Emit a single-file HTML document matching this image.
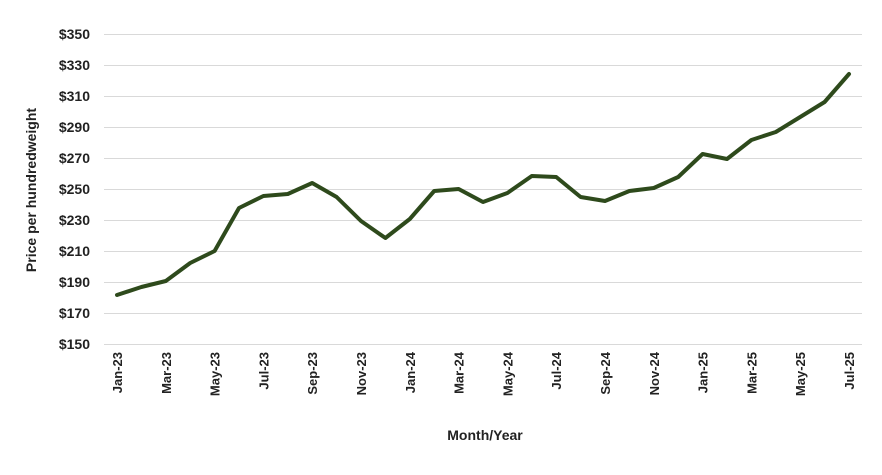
<!DOCTYPE html>
<html><head><meta charset="utf-8"><style>
body{margin:0;background:#fff}
text{font-family:"Liberation Sans Narrow","Liberation Sans",sans-serif;font-weight:bold;fill:#222}
</style></head><body>
<svg width="882" height="470" viewBox="0 0 882 470" xmlns="http://www.w3.org/2000/svg">
<g stroke="#d9d9d9" stroke-width="1">
<line x1="104" x2="862" y1="34.5" y2="34.5"/><line x1="104" x2="862" y1="65.5" y2="65.5"/>
<line x1="104" x2="862" y1="96.5" y2="96.5"/><line x1="104" x2="862" y1="127.5" y2="127.5"/>
<line x1="104" x2="862" y1="158.5" y2="158.5"/><line x1="104" x2="862" y1="189.5" y2="189.5"/>
<line x1="104" x2="862" y1="220.5" y2="220.5"/><line x1="104" x2="862" y1="251.5" y2="251.5"/>
<line x1="104" x2="862" y1="282.5" y2="282.5"/><line x1="104" x2="862" y1="313.5" y2="313.5"/>
<line x1="104" x2="862" y1="344.5" y2="344.5"/>
</g>
<g font-size="14" text-anchor="end">
<text x="90" y="39">$350</text><text x="90" y="70">$330</text><text x="90" y="101">$310</text>
<text x="90" y="132">$290</text><text x="90" y="163">$270</text><text x="90" y="194">$250</text>
<text x="90" y="225">$230</text><text x="90" y="256">$210</text><text x="90" y="287">$190</text>
<text x="90" y="318">$170</text><text x="90" y="349">$150</text>
</g>
<polyline fill="none" stroke="#2e4a1c" stroke-width="4" stroke-linejoin="round" stroke-linecap="round"
points="117,295 141.4,287 165.8,281 190.2,263 214.6,251 239,208 263.4,196 287.8,194 312.2,183 336.6,197 361,221 385.4,238 409.8,219 434.2,191 458.6,189 483,202 507.4,193 531.8,176 556.2,177 580.6,197 605,201 629.4,191 653.8,188 678.2,177 702.6,154 727,159 751.4,140 775.8,132 800.2,117 824.6,102 849,74"/>
<g font-size="13" text-anchor="end">
<text transform="translate(122,352) rotate(-90)">Jan-23</text>
<text transform="translate(170.8,352) rotate(-90)">Mar-23</text>
<text transform="translate(219.6,352) rotate(-90)">May-23</text>
<text transform="translate(268.4,352) rotate(-90)">Jul-23</text>
<text transform="translate(317.2,352) rotate(-90)">Sep-23</text>
<text transform="translate(366,352) rotate(-90)">Nov-23</text>
<text transform="translate(414.8,352) rotate(-90)">Jan-24</text>
<text transform="translate(463.6,352) rotate(-90)">Mar-24</text>
<text transform="translate(512.4,352) rotate(-90)">May-24</text>
<text transform="translate(561.2,352) rotate(-90)">Jul-24</text>
<text transform="translate(610,352) rotate(-90)">Sep-24</text>
<text transform="translate(658.8,352) rotate(-90)">Nov-24</text>
<text transform="translate(707.6,352) rotate(-90)">Jan-25</text>
<text transform="translate(756.4,352) rotate(-90)">Mar-25</text>
<text transform="translate(805.2,352) rotate(-90)">May-25</text>
<text transform="translate(854,352) rotate(-90)">Jul-25</text>
</g>
<text x="485" y="440" font-size="14" text-anchor="middle">Month/Year</text>
<text transform="translate(36,190) rotate(-90)" font-size="14" text-anchor="middle">Price per hundredweight</text>
</svg>
</body></html>
